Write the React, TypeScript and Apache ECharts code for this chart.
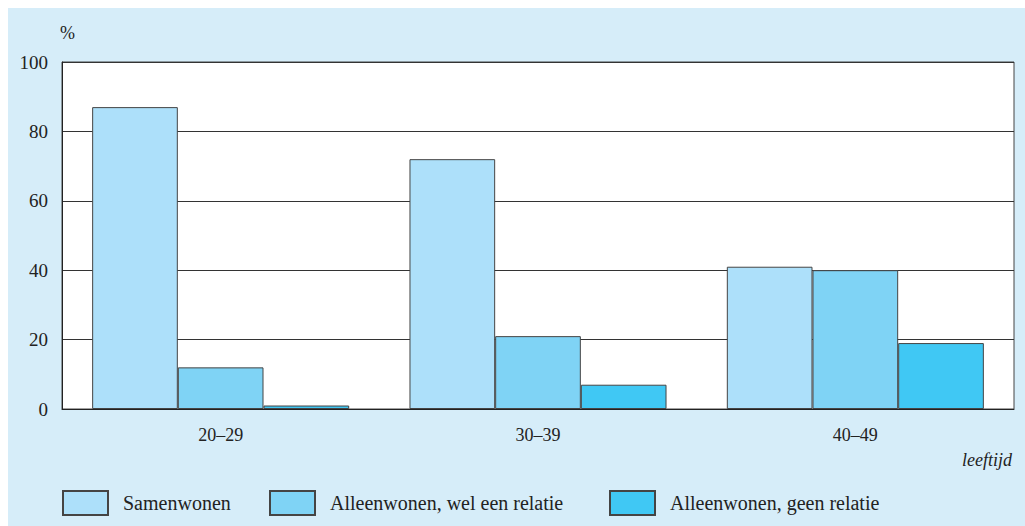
import React, { useEffect, useRef } from "react";
import * as echarts from "echarts";

const categories = ["20–29", "30–39", "40–49"];
const seriesNames = ["Samenwonen", "Alleenwonen, wel een relatie", "Alleenwonen, geen relatie"];
const samenwonen = [87, 72, 41];
const welRelatie = [12, 21, 40];
const geenRelatie = [1, 7, 19];
const yTicks = [0, 20, 40, 60, 80, 100];
const colors = ["#ade0fa", "#7fd3f5", "#40c8f4"];

const FONT = "'Liberation Serif', 'DejaVu Serif', serif";

export default function App() {
  const ref = useRef<HTMLDivElement>(null);
  useEffect(() => {
    if (!ref.current) return;
    const chart = echarts.init(ref.current, undefined, { renderer: "svg" });
    const values = [samenwonen, welRelatie, geenRelatie];
    const legendLefts = [54, 261, 601];
    chart.setOption({
      animation: false,
      backgroundColor: "#d6edf9",
      textStyle: { fontFamily: FONT, color: "#222" },
      grid: {
        left: 54,
        top: 54,
        width: 952,
        height: 347,
        show: true,
        backgroundColor: "#ffffff",
        borderColor: "#444",
        borderWidth: 1,
      },
      title: [
        {
          text: "%",
          left: 47,
          top: 11,
          textStyle: { fontFamily: FONT, fontSize: 18, fontWeight: "normal", color: "#222" },
        },
        {
          text: "leeftijd",
          right: 8,
          top: 438,
          textStyle: { fontFamily: FONT, fontSize: 18, fontStyle: "italic", fontWeight: "normal", color: "#222" },
        },
      ],
      legend: seriesNames.map((name, i) => ({
        data: [name],
        left: legendLefts[i],
        top: 482,
        padding: 0,
        itemWidth: 45,
        itemHeight: 24,
        icon: "rect",
        selectedMode: false,
        textStyle: { fontFamily: FONT, fontSize: 20, color: "#222", padding: [12, 0, 0, 10] },
      })),
      xAxis: {
        type: "category",
        data: categories,
        axisLine: { show: true, lineStyle: { color: "#222", width: 1 } },
        axisTick: { show: false },
        axisLabel: { fontFamily: FONT, fontSize: 18, color: "#222", margin: 17 },
      },
      yAxis: {
        type: "value",
        min: yTicks[0],
        max: yTicks[yTicks.length - 1],
        interval: 20,
        axisLine: { show: true, lineStyle: { color: "#222", width: 1 } },
        axisTick: { show: false },
        axisLabel: { fontFamily: FONT, fontSize: 19, color: "#222", margin: 14 },
        splitLine: { show: true, lineStyle: { color: "#333", width: 1 } },
      },
      series: seriesNames.map((name, i) => ({
        name,
        type: "bar",
        data: values[i],
        barGap: "0%",
        barCategoryGap: "19%",
        itemStyle: { color: colors[i], borderColor: "#444", borderWidth: 1 },
      })),
    });
    return () => chart.dispose();
  }, []);
  return (
    <div
      ref={ref}
      style={{ position: "fixed", left: 8, top: 8, width: 1017, height: 518 }}
    />
  );
}
